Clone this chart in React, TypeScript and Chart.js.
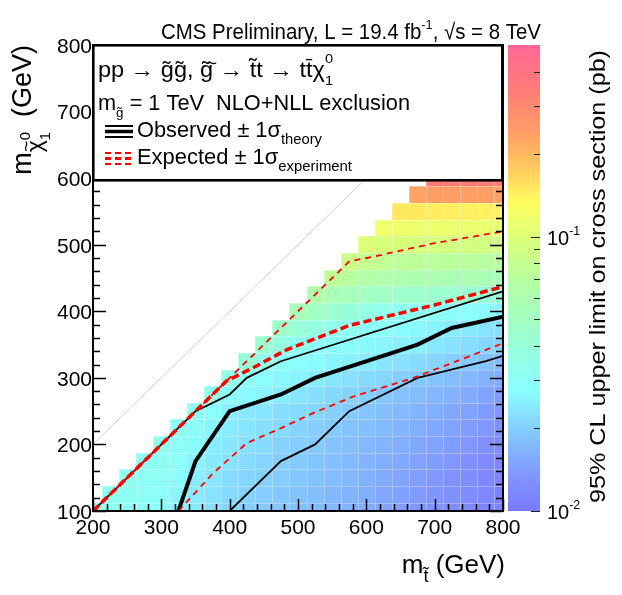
import React, { useEffect, useRef } from 'react';
import { Chart, registerables } from 'chart.js';

Chart.register(...registerables);

// ---------------- data ----------------
const STOP_MASSES = [200, 225, 250, 275, 300, 325, 350, 375, 400, 425, 450, 475, 500, 525, 550, 575, 600, 625, 650, 675, 700, 725, 750, 775, 800];
const LSP_MASSES = [100, 125, 150, 175, 200, 225, 250, 275, 300, 325, 350, 375, 400, 425, 450, 475, 500, 525, 550, 575, 600];

// 95% CL upper limit (pb); each row starts at m_stop = m_LSP + 100
const limLsp100 = [0.030, 0.031, 0.030, 0.029, 0.028, 0.0255, 0.024, 0.0225, 0.021, 0.020, 0.0195, 0.019, 0.018, 0.0175, 0.017, 0.0162, 0.0155, 0.015, 0.0142, 0.0135, 0.013, 0.0125, 0.012, 0.0115, 0.011];
const limLsp125 = [0.032, 0.031, 0.030, 0.029, 0.026, 0.0242, 0.023, 0.0215, 0.0205, 0.020, 0.0192, 0.0185, 0.018, 0.0172, 0.0165, 0.016, 0.0152, 0.0145, 0.0138, 0.0133, 0.0128, 0.0123, 0.0118, 0.0113];
const limLsp150 = [0.032, 0.031, 0.030, 0.027, 0.0244, 0.0235, 0.022, 0.021, 0.0205, 0.0198, 0.019, 0.0183, 0.0176, 0.017, 0.0163, 0.0155, 0.0148, 0.0142, 0.0136, 0.013, 0.0125, 0.012, 0.0115];
const limLsp175 = [0.032, 0.031, 0.029, 0.0255, 0.024, 0.0228, 0.0218, 0.021, 0.020, 0.0195, 0.0188, 0.018, 0.0173, 0.0167, 0.016, 0.0153, 0.0146, 0.014, 0.0134, 0.0128, 0.0123, 0.0118];
const limLsp200 = [0.032, 0.030, 0.027, 0.0243, 0.0235, 0.0225, 0.0215, 0.0207, 0.020, 0.0193, 0.0186, 0.018, 0.0173, 0.0166, 0.016, 0.0152, 0.0146, 0.014, 0.0134, 0.0128, 0.0122];
const limLsp225 = [0.032, 0.029, 0.026, 0.0242, 0.0233, 0.0224, 0.0215, 0.0207, 0.020, 0.0193, 0.0186, 0.018, 0.0173, 0.0166, 0.0159, 0.0152, 0.0146, 0.014, 0.0134, 0.0128];
const limLsp250 = [0.031, 0.028, 0.0248, 0.0238, 0.0232, 0.0224, 0.0216, 0.0208, 0.020, 0.0193, 0.0187, 0.018, 0.0173, 0.0166, 0.0159, 0.0152, 0.0146, 0.014, 0.0134];
const limLsp275 = [0.033, 0.029, 0.027, 0.0255, 0.0245, 0.0232, 0.0222, 0.0213, 0.0205, 0.0198, 0.019, 0.0183, 0.0176, 0.0169, 0.0162, 0.0155, 0.0148, 0.0142];
const limLsp300 = [0.036, 0.031, 0.028, 0.0265, 0.0255, 0.0245, 0.0235, 0.0225, 0.0216, 0.0208, 0.020, 0.0192, 0.0185, 0.0177, 0.017, 0.0163, 0.0157];
const limLsp325 = [0.040, 0.034, 0.030, 0.028, 0.027, 0.026, 0.025, 0.0245, 0.0235, 0.0225, 0.0216, 0.0208, 0.020, 0.0192, 0.0185, 0.0178];
const limLsp350 = [0.043, 0.037, 0.032, 0.030, 0.0285, 0.0275, 0.0265, 0.0258, 0.025, 0.0245, 0.0237, 0.0228, 0.022, 0.0212, 0.0205];
const limLsp375 = [0.047, 0.041, 0.036, 0.033, 0.031, 0.0295, 0.0285, 0.0275, 0.0265, 0.0255, 0.0245, 0.0238, 0.023, 0.0225];
const limLsp400 = [0.055, 0.048, 0.043, 0.039, 0.036, 0.034, 0.032, 0.031, 0.030, 0.029, 0.028, 0.027, 0.026];
const limLsp425 = [0.064, 0.058, 0.054, 0.050, 0.048, 0.046, 0.045, 0.044, 0.043, 0.042, 0.041, 0.040];
const limLsp450 = [0.075, 0.070, 0.066, 0.063, 0.061, 0.060, 0.059, 0.058, 0.057, 0.056, 0.055];
const limLsp475 = [0.085, 0.080, 0.077, 0.075, 0.074, 0.073, 0.072, 0.071, 0.070, 0.069];
const limLsp500 = [0.100, 0.097, 0.095, 0.094, 0.093, 0.092, 0.091, 0.090, 0.089];
const limLsp525 = [0.118, 0.116, 0.115, 0.114, 0.113, 0.112, 0.111, 0.110];
const limLsp550 = [0.150, 0.148, 0.146, 0.145, 0.144, 0.143, 0.142];
const limLsp575 = [0.230, 0.245, 0.245, 0.240, 0.240, 0.235];
const limLsp600 = [0.340, 0.340, 0.335, 0.330, 0.330];

const LIMIT_ROWS = [limLsp100, limLsp125, limLsp150, limLsp175, limLsp200, limLsp225, limLsp250, limLsp275, limLsp300, limLsp325, limLsp350, limLsp375, limLsp400, limLsp425, limLsp450, limLsp475, limLsp500, limLsp525, limLsp550, limLsp575, limLsp600];

// contours [m_stop, m_LSP]
const observed = [[325, 100], [350, 175], [400, 250], [475, 275], [525, 300], [675, 350], [725, 375], [800, 392]];
const observedPlus = [[200, 100], [350, 250], [400, 275], [425, 300], [475, 325], [800, 430]];
const observedMinus = [[400, 100], [475, 175], [525, 200], [575, 250], [675, 300], [775, 325], [800, 333]];
const expected = [[200, 100], [395, 295], [430, 313], [483, 342], [576, 379], [698, 409], [800, 437]];
const expectedPlus = [[200, 100], [575, 475], [610, 482], [698, 502], [800, 520]];
const expectedMinus = [[325, 100], [376, 157], [425, 202], [474, 224], [522, 247], [581, 272], [669, 300], [800, 352]];
const diagonal = [[200, 200], [800, 800]];

const X_TICKS = [200, 300, 400, 500, 600, 700, 800];
const Y_TICKS = [100, 200, 300, 400, 500, 600, 700, 800];
const Z_MAJOR = [0.01, 0.1];
const Z_MAJOR_EXP = ['-2', '-1'];
const Z_MINOR = [0.02, 0.03, 0.04, 0.05, 0.06, 0.07, 0.08, 0.09, 0.2, 0.3, 0.4];

// ---------------- styling helpers ----------------
const FONT = '"Liberation Sans", Arial, Helvetica, sans-serif';
const HALF_BIN = 12.5;
const MINOR_STEP = 20;

const PAL: [number, number[]][] = [
  [0.0, [120, 120, 255]],
  [0.06, [128, 142, 255]],
  [0.16, [132, 196, 255]],
  [0.26, [138, 255, 255]],
  [0.36, [152, 255, 214]],
  [0.48, [178, 255, 168]],
  [0.58, [216, 255, 122]],
  [0.66, [255, 255, 98]],
  [0.72, [255, 212, 92]],
  [0.8, [255, 164, 100]],
  [0.9, [255, 124, 118]],
  [1.0, [255, 104, 150]],
];

function palette(f: number): string {
  const g = Math.max(0, Math.min(1, f));
  for (let i = 1; i < PAL.length; i++) {
    if (g <= PAL[i][0]) {
      const [f0, c0] = PAL[i - 1];
      const [f1, c1] = PAL[i];
      const t = (g - f0) / (f1 - f0);
      const c = c0.map((v, k) => Math.round(v + (c1[k] - v) * t));
      return `rgb(${c[0]},${c[1]},${c[2]})`;
    }
  }
  const c = PAL[PAL.length - 1][1];
  return `rgb(${c[0]},${c[1]},${c[2]})`;
}

type Seg = { t: string; k?: number; dy?: number; adv?: boolean; over?: boolean };

function drawRich(ctx: CanvasRenderingContext2D, segs: Seg[], x: number, y: number, size: number,
  o: { align?: 'left' | 'right' | 'center'; width?: number; rot?: number; color?: string } = {}) {
  let nat = 0;
  for (const s of segs) {
    ctx.font = `${size * (s.k ?? 1)}px ${FONT}`;
    if (s.adv !== false && !s.over) nat += ctx.measureText(s.t).width;
  }
  const sx = o.width ? o.width / nat : 1;
  ctx.save();
  ctx.translate(x, y);
  if (o.rot) ctx.rotate(o.rot);
  ctx.scale(sx, 1);
  let cx = o.align === 'right' ? -nat : o.align === 'center' ? -nat / 2 : 0;
  let lastX = cx, lastW = 0;
  ctx.fillStyle = o.color ?? '#000';
  ctx.textBaseline = 'alphabetic';
  ctx.textAlign = 'left';
  for (const s of segs) {
    ctx.font = `${size * (s.k ?? 1)}px ${FONT}`;
    const w = ctx.measureText(s.t).width;
    if (s.over) {
      ctx.fillText(s.t, lastX + (lastW - w) / 2, (s.dy ?? 0) * size);
      continue;
    }
    ctx.fillText(s.t, cx, (s.dy ?? 0) * size);
    if (s.adv !== false) { lastX = cx; lastW = w; cx += w; }
  }
  ctx.restore();
}

function cellColor(z: any, v: number) {
  const f = (z.bottom - z.getPixelForValue(v)) / (z.bottom - z.top);
  return palette(f);
}

const heatPlugin = {
  id: 'heatmap',
  beforeDatasetsDraw(chart: any) {
    const { ctx, chartArea: a, scales } = chart;
    const { x, y, z } = scales;
    ctx.save();
    ctx.beginPath();
    ctx.rect(a.left, a.top, a.right - a.left, a.bottom - a.top);
    ctx.clip();
    const cells: number[][] = [];
    LIMIT_ROWS.forEach((row, i) => {
      const lsp = LSP_MASSES[i];
      row.forEach((v, j) => {
        const ms = STOP_MASSES[i + j];
        const x0 = Math.round(x.getPixelForValue(ms - HALF_BIN));
        const x1 = Math.round(x.getPixelForValue(ms + HALF_BIN));
        const y0 = Math.round(y.getPixelForValue(lsp + HALF_BIN));
        const y1 = Math.round(y.getPixelForValue(lsp - HALF_BIN));
        ctx.fillStyle = cellColor(z, v);
        ctx.fillRect(x0, y0, x1 - x0, y1 - y0);
        cells.push([x0, y0, x1, y1]);
      });
    });
    ctx.strokeStyle = 'rgba(255,255,255,0.3)';
    ctx.lineWidth = 1;
    for (const [x0, y0, x1, y1] of cells) {
      ctx.beginPath();
      ctx.moveTo(x0 + 0.5, y1);
      ctx.lineTo(x0 + 0.5, y0 + 0.5);
      ctx.lineTo(x1, y0 + 0.5);
      ctx.stroke();
    }
    ctx.restore();
  },
};

const overlayPlugin = {
  id: 'overlay',
  afterDraw(chart: any) {
    const { ctx, chartArea: a, scales } = chart;
    const { x, y, z } = scales;
    ctx.save();

    // ticks (inside)
    ctx.strokeStyle = '#000';
    ctx.lineWidth = 1.5;
    ctx.beginPath();
    for (let v = x.min; v <= x.max + 0.01; v += MINOR_STEP) {
      const px = Math.round(x.getPixelForValue(v)) + 0.5;
      const len = X_TICKS.includes(v) ? 12 : 7;
      ctx.moveTo(px, a.bottom);
      ctx.lineTo(px, a.bottom - len);
    }
    for (let v = y.min; v <= y.max + 0.01; v += MINOR_STEP) {
      const py = Math.round(y.getPixelForValue(v)) + 0.5;
      const len = Y_TICKS.includes(v) ? 13 : 7;
      ctx.moveTo(a.left, py);
      ctx.lineTo(a.left + len, py);
      ctx.moveTo(a.right, py);
      ctx.lineTo(a.right - len, py);
    }
    ctx.stroke();

    // frame
    ctx.lineWidth = 2;
    ctx.strokeRect(a.left, a.top, a.right - a.left, a.bottom - a.top);

    // tick labels
    ctx.fillStyle = '#000';
    ctx.font = `21px ${FONT}`;
    ctx.textAlign = 'center';
    ctx.textBaseline = 'middle';
    for (const v of X_TICKS) ctx.fillText(String(v), x.getPixelForValue(v), a.bottom + 17);
    ctx.textAlign = 'right';
    for (const v of Y_TICKS) ctx.fillText(String(v), a.left - 1, y.getPixelForValue(v) + 2);

    // legend box
    const bx0 = a.left, by0 = a.top, bx1 = a.right - 1, by1 = 180;
    ctx.fillStyle = '#fff';
    ctx.fillRect(bx0, by0, bx1 - bx0, by1 - by0);
    ctx.lineWidth = 2.6;
    ctx.strokeStyle = '#000';
    ctx.strokeRect(bx0 + 0.3, by0 + 0.3, bx1 - bx0, by1 - by0);

    drawRich(ctx, [
      { t: 'pp \u2192 g\u0303g\u0303, g\u0303 \u2192 t\u0303t \u2192 tt\u0304\u03c7' },
      { t: '~', k: 0.8, dy: -0.38, over: true },
      { t: '0', k: 0.62, dy: -0.62, adv: false },
      { t: '1', k: 0.62, dy: 0.38 },
    ], 98, 77, 22, { width: 235 });
    drawRich(ctx, [
      { t: 'm' },
      { t: 'g\u0303', k: 0.62, dy: 0.32 },
      { t: ' = 1 TeV  NLO+NLL exclusion' },
    ], 98, 110, 22, { width: 312 });
    drawRich(ctx, [
      { t: 'Observed \u00b1 1\u03c3' },
      { t: 'theory', k: 0.68, dy: 0.3 },
    ], 137, 137, 22, { width: 185 });
    drawRich(ctx, [
      { t: 'Expected \u00b1 1\u03c3' },
      { t: 'experiment', k: 0.68, dy: 0.3 },
    ], 137, 164, 22, { width: 215 });

    // legend symbols
    ctx.strokeStyle = '#000';
    ctx.setLineDash([]);
    ctx.lineWidth = 2;
    ctx.beginPath(); ctx.moveTo(105, 126); ctx.lineTo(133, 126); ctx.stroke();
    ctx.lineWidth = 3.5;
    ctx.beginPath(); ctx.moveTo(105, 131.5); ctx.lineTo(133, 131.5); ctx.stroke();
    ctx.lineWidth = 2;
    ctx.beginPath(); ctx.moveTo(105, 137); ctx.lineTo(133, 137); ctx.stroke();
    ctx.strokeStyle = '#ff0000';
    ctx.setLineDash([6, 4]);
    ctx.lineWidth = 2;
    ctx.beginPath(); ctx.moveTo(105, 153); ctx.lineTo(134, 153); ctx.stroke();
    ctx.lineWidth = 3;
    ctx.beginPath(); ctx.moveTo(105, 158.5); ctx.lineTo(134, 158.5); ctx.stroke();
    ctx.lineWidth = 2;
    ctx.beginPath(); ctx.moveTo(105, 164); ctx.lineTo(134, 164); ctx.stroke();
    ctx.setLineDash([]);

    // colour bar
    const cbL = z.left + 5, cbR = z.left + 37;
    for (let py = Math.floor(z.top); py < z.bottom; py++) {
      const f = (z.bottom - (py + 0.5)) / (z.bottom - z.top);
      ctx.fillStyle = palette(f);
      ctx.fillRect(cbL, py, cbR - cbL, 1);
    }
    ctx.strokeStyle = '#222';
    ctx.lineWidth = 1;
    ctx.beginPath();
    for (const v of Z_MAJOR) {
      const py = Math.round(z.getPixelForValue(v)) + 0.5;
      ctx.moveTo(cbR, py); ctx.lineTo(cbR - 9, py);
    }
    for (const v of Z_MINOR) {
      const py = Math.round(z.getPixelForValue(v)) + 0.5;
      ctx.moveTo(cbR, py); ctx.lineTo(cbR - 6, py);
    }
    ctx.stroke();
    Z_MAJOR.forEach((v, i) => {
      drawRich(ctx, [{ t: '10' }, { t: Z_MAJOR_EXP[i], k: 0.62, dy: -0.5 }], cbR + 7, z.getPixelForValue(v) + 8, 20);
    });

    // titles
    drawRich(ctx, [
      { t: 'CMS Preliminary, L = 19.4 fb' },
      { t: '-1', k: 0.62, dy: -0.45 },
      { t: ', \u221As = 8 TeV' },
    ], 541, 39, 22, { align: 'right', width: 380 });

    drawRich(ctx, [
      { t: 'm' },
      { t: 't\u0303', k: 0.7, dy: 0.35 },
      { t: ' (GeV)' },
    ], 505, 573, 26, { align: 'right' });

    drawRich(ctx, [
      { t: 'm' },
      { t: '\u03c7', k: 0.85, dy: 0.4 },
      { t: '~', k: 0.7, dy: 0.05, over: true },
      { t: '0', k: 0.55, dy: -0.02, adv: false },
      { t: '1', k: 0.55, dy: 0.7 },
      { t: '  (GeV)' },
    ], 31, a.top, 27, { align: 'right', rot: -Math.PI / 2 });

    drawRich(ctx, [{ t: '95% CL upper limit on cross section (pb)' }], 605, 503, 22,
      { align: 'left', rot: -Math.PI / 2, width: 453 });

    ctx.restore();
  },
};

function line(pts: number[][], color: string, width: number, dash: number[], order: number) {
  return {
    data: pts.map(([px, py]) => ({ x: px, y: py })),
    borderColor: color,
    borderWidth: width,
    borderDash: dash,
    pointRadius: 0,
    fill: false,
    tension: 0,
    order,
  };
}

export default function App() {
  const ref = useRef<HTMLCanvasElement | null>(null);
  useEffect(() => {
    if (!ref.current) return;
    const chart = new Chart(ref.current, {
      type: 'line',
      data: {
        datasets: [
          line(expected, '#ff0000', 3.5, [8, 4], 1),
          line(expectedPlus, '#ff0000', 1.8, [6, 5], 1),
          line(expectedMinus, '#ff0000', 1.8, [6, 5], 1),
          line(observed, '#000000', 4, [], 3),
          line(observedPlus, '#000000', 1.8, [], 3),
          line(observedMinus, '#000000', 1.8, [], 3),
          line(diagonal, '#c8d2d2', 1, [], 5),
        ] as any,
      },
      options: {
        responsive: false,
        animation: false,
        devicePixelRatio: 1,
        events: [],
        layout: { padding: { top: 45, left: 0, right: 0, bottom: 0 } },
        plugins: { legend: { display: false }, tooltip: { enabled: false }, title: { display: false } },
        scales: {
          x: {
            type: 'linear', position: 'bottom', min: 200, max: 800,
            grid: { display: false }, border: { display: false }, ticks: { display: false },
            afterFit: (s: any) => { s.height = 84; },
          },
          y: {
            type: 'linear', position: 'left', min: 100, max: 800,
            grid: { display: false }, border: { display: false }, ticks: { display: false },
            afterFit: (s: any) => { s.width = 93; },
          },
          z: {
            type: 'logarithmic', position: 'right', min: 0.01, max: 0.5,
            grid: { display: false }, border: { display: false }, ticks: { display: false },
            afterFit: (s: any) => { s.width = 119; },
          },
        },
      } as any,
      plugins: [heatPlugin, overlayPlugin],
    });
    return () => chart.destroy();
  }, []);
  return (
    <div style={{ position: 'absolute', left: 0, top: 0, width: 622, height: 595, background: '#fff' }}>
      <canvas ref={ref} width={622} height={595} style={{ display: 'block' }} />
    </div>
  );
}
